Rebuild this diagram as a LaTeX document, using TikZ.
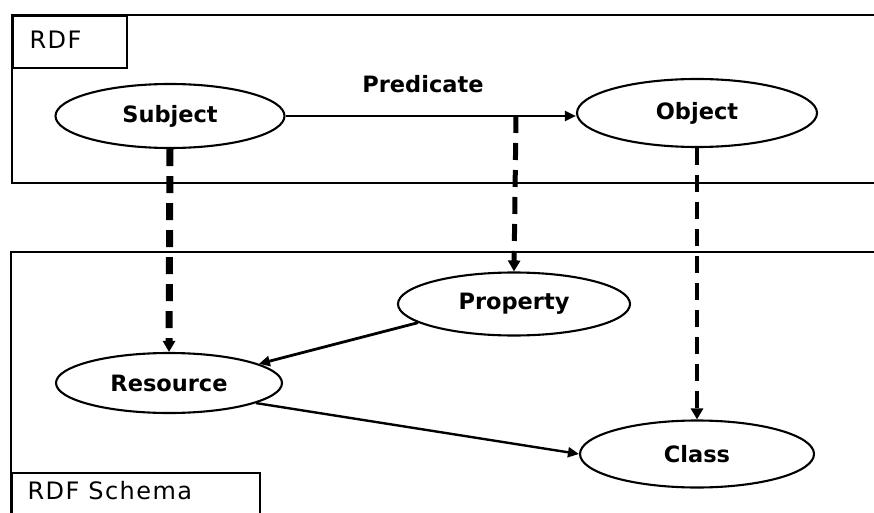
\documentclass[tikz,border=0pt]{standalone}
\usepackage{fontspec}
\setmainfont{DejaVu Sans}
\usetikzlibrary{shapes.geometric,arrows.meta}
\begin{document}
\begin{tikzpicture}[x=1pt,y=-1pt,
  every node/.style={font=\fontsize{22.5}{26}\selectfont\bfseries},
  layertitle/.style={anchor=west,font=\fontsize{24}{28}\selectfont\addfontfeatures{LetterSpace=6}},
  frame/.style={line width=1.9pt},
  concept/.style={ellipse,draw,line width=2.1pt,inner sep=0pt},
  link/.style={line width=2.4pt,-{Triangle[length=11pt,width=10pt]}},
  maps/.style={dash pattern=on 17pt off 10pt,-{Triangle[length=11pt,width=12pt]}}]
\useasboundingbox (0,0) rectangle (874,513);

% RDF layer
\draw[frame] (880,15) -- (12,15) -- (12,183) -- (880,183);
\node[draw,frame,minimum width=114pt,minimum height=52pt,anchor=north west] (rdflabel) at (12,15) {};
\node[layertitle] (rdftext) at (26,40) {RDF};

% RDF Schema layer
\draw[frame] (880,252) -- (11,252) -- (11,520);
\node[draw,frame,minimum width=248pt,minimum height=50pt,anchor=north west] (rdfslabel) at (11,472) {};
\node[layertitle] (rdfstext) at (24,491) {RDF Schema};

% concepts
\node[concept,minimum width=229pt,minimum height=64pt] (subj) at (170,116) {Subject};
\node[concept,minimum width=240pt,minimum height=68pt] (obj) at (697,113) {Object};
\node[concept,minimum width=232pt,minimum height=63pt] (prop) at (514,304) {Property};
\node[concept,minimum width=226pt,minimum height=60pt] (res) at (169,383) {Resource};
\node[concept,minimum width=234pt,minimum height=67pt] (cls) at (697,454) {Class};

\node (predlabel) at (423,84) {Predicate};

% RDF statement
\draw[link] (subj.east) -- (obj.west |- subj.east);
\coordinate (pred) at (516,116);

% mapping of RDF terms onto RDF Schema classes
\draw[maps,line width=7pt] (subj.south) -- (res.north);
\draw[maps,line width=5pt] (pred) -- (prop.north);
\draw[maps,line width=4pt] (obj.south) -- (cls.north);

% schema relations
\draw[link,line width=2.8pt] (prop.191) -- (res.12);
\draw[link] (res.-13) -- (cls.west);
\end{tikzpicture}
\end{document}
